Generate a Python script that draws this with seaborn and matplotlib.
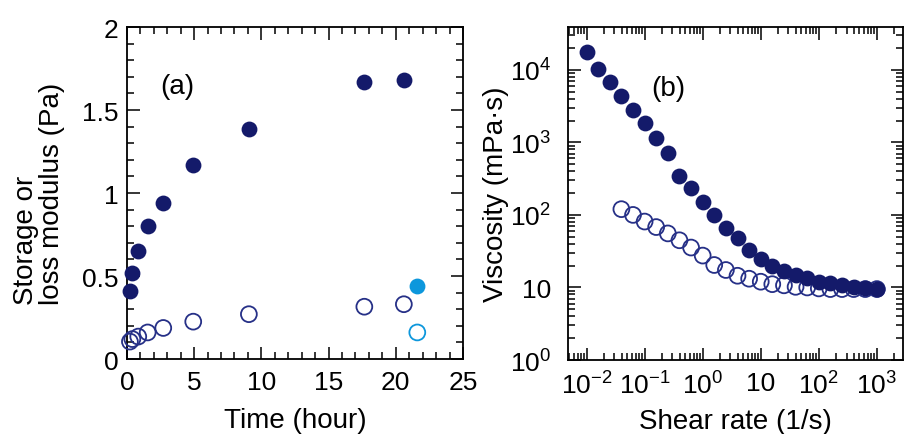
import pandas as pd
import matplotlib
matplotlib.use('Agg')
import matplotlib.pyplot as plt
import matplotlib.ticker as mticker
import seaborn as sns

# panel (a): modulus vs time
time_h = [0.22, 0.4, 0.84, 1.54, 2.7, 4.93, 9.07, 17.66, 20.6]
storage = [0.41, 0.52, 0.65, 0.80, 0.94, 1.17, 1.385, 1.667, 1.68]
loss = [0.105, 0.12, 0.135, 0.16, 0.187, 0.225, 0.27, 0.315, 0.33]
extra_time = [21.6]
extra_storage = [0.44]
extra_loss = [0.16]

# panel (b): viscosity vs shear rate
shear_filled = [0.01, 0.0158, 0.0251, 0.0398, 0.0631, 0.1, 0.158, 0.251, 0.398, 0.631,
                1.0, 1.58, 2.51, 3.98, 6.31, 10, 15.8, 25.1, 39.8, 63.1,
                100, 158, 251, 398, 631, 1000]
visc_filled = [17600, 10400, 6760, 4370, 2820, 1820, 1150, 724, 339, 234,
               151, 100, 65.3, 47.9, 33.1, 24.5, 20.0, 17.0, 14.8, 13.3,
               12.0, 11.5, 10.7, 10.2, 9.9, 9.5]
shear_open = [0.0398, 0.0631, 0.1, 0.158, 0.251, 0.398, 0.631,
              1.0, 1.58, 2.51, 3.98, 6.31, 10, 15.8, 25.1, 39.8, 63.1,
              100, 158, 251, 398, 631, 1000]
visc_open = [120, 100, 81, 68, 55.6, 44.7, 35.5,
             27.5, 20.4, 17.4, 14.5, 13.2, 12.0, 11.1, 10.7, 10.2, 10.0,
             9.7, 9.5, 9.5, 9.5, 9.5, 9.5]

navy = '#141a6a'
navy_open = '#263087'
light = '#0d97dc'

sns.set_style('ticks')
plt.rcParams['font.family'] = ['Liberation Sans', 'DejaVu Sans']
plt.rcParams['mathtext.default'] = 'regular'
plt.rcParams['axes.linewidth'] = 1.3
plt.rcParams['axes.edgecolor'] = 'black'
plt.rcParams['text.color'] = 'black'
plt.rcParams['axes.labelcolor'] = 'black'
plt.rcParams['xtick.color'] = 'black'
plt.rcParams['ytick.color'] = 'black'

fig = plt.figure(figsize=(9.05, 4.35), dpi=100)
ax1 = fig.add_axes([0.1403, 0.1724, 0.3713, 0.7632])
ax2 = fig.add_axes([0.6276, 0.1701, 0.3702, 0.7655])

msize = 130

df_a = pd.DataFrame({'time': time_h, 'storage': storage, 'loss': loss})
df_x = pd.DataFrame({'time': extra_time, 'storage': extra_storage, 'loss': extra_loss})

sns.scatterplot(data=df_a, x='time', y='loss', ax=ax1, s=msize, facecolors='none',
                edgecolor=navy_open, linewidth=1.3, clip_on=False, zorder=3)
sns.scatterplot(data=df_a, x='time', y='storage', ax=ax1, s=msize, color=navy,
                linewidth=0, clip_on=False, zorder=3)
sns.scatterplot(data=df_x, x='time', y='loss', ax=ax1, s=msize, facecolors='none',
                edgecolor=light, linewidth=1.3, zorder=3)
sns.scatterplot(data=df_x, x='time', y='storage', ax=ax1, s=msize, color=light,
                linewidth=0, zorder=3)

ax1.set_xlim(0, 25)
ax1.set_ylim(0, 2)
ax1.xaxis.set_major_locator(mticker.MultipleLocator(5))
ax1.xaxis.set_minor_locator(mticker.MultipleLocator(1))
ax1.yaxis.set_major_locator(mticker.MultipleLocator(0.5))
ax1.yaxis.set_minor_locator(mticker.MultipleLocator(0.1))
ax1.yaxis.set_major_formatter(mticker.FuncFormatter(lambda v, p: f'{v:g}'))
ax1.set_xlabel('Time (hour)', fontsize=20, labelpad=9)
ax1.set_ylabel('Storage or\nloss modulus (Pa)', fontsize=20, labelpad=12,
               linespacing=1.0, multialignment='left')
ax1.text(0.098, 0.822, '(a)', transform=ax1.transAxes, fontsize=20, va='center')

df_f = pd.DataFrame({'rate': shear_filled, 'visc': visc_filled})
df_o = pd.DataFrame({'rate': shear_open, 'visc': visc_open})
sns.scatterplot(data=df_o, x='rate', y='visc', ax=ax2, s=msize, facecolors='none',
                edgecolor=navy_open, linewidth=1.3, zorder=3)
sns.scatterplot(data=df_f, x='rate', y='visc', ax=ax2, s=msize, color=navy,
                linewidth=0, zorder=3)
ax2.set_xscale('log')
ax2.set_yscale('log')
ax2.set_xlim(10 ** -2.32, 10 ** 3.45)
ax2.set_ylim(1, 10 ** 4.59)
ax2.xaxis.set_major_locator(mticker.FixedLocator([1e-2, 1e-1, 1, 10, 100, 1000]))
ax2.xaxis.set_major_formatter(mticker.FixedFormatter(
    ['$10^{-2}$', '$10^{-1}$', '$10^{0}$', '10', '$10^{2}$', '$10^{3}$']))
ax2.yaxis.set_major_locator(mticker.FixedLocator([1, 10, 100, 1000, 10000]))
ax2.yaxis.set_major_formatter(mticker.FixedFormatter(
    ['$10^{0}$', '10', '$10^{2}$', '$10^{3}$', '$10^{4}$']))
for axis in (ax2.xaxis, ax2.yaxis):
    axis.set_minor_locator(mticker.LogLocator(base=10, subs=range(2, 10), numticks=20))
    axis.set_minor_formatter(mticker.NullFormatter())
ax2.set_xlabel('Shear rate (1/s)', fontsize=20, labelpad=7)
ax2.set_ylabel('Viscosity (mPa·s)', fontsize=20, labelpad=1)
ax2.text(0.25, 0.817, '(b)', transform=ax2.transAxes, fontsize=20, va='center')

for ax in (ax1, ax2):
    ax.tick_params(which='both', direction='in', top=True, right=True, labelsize=19, width=1.1)
    ax.tick_params(which='major', length=9)
    ax.tick_params(which='minor', length=5)
    ax.tick_params(axis='x', which='major', pad=8)
    for sp in ax.spines.values():
        sp.set_visible(True)
    leg = ax.get_legend()
    if leg:
        leg.remove()
ax1.tick_params(axis='y', which='major', pad=6)
ax2.tick_params(axis='y', which='major', pad=12)

fig.savefig('out.png', dpi=100)
